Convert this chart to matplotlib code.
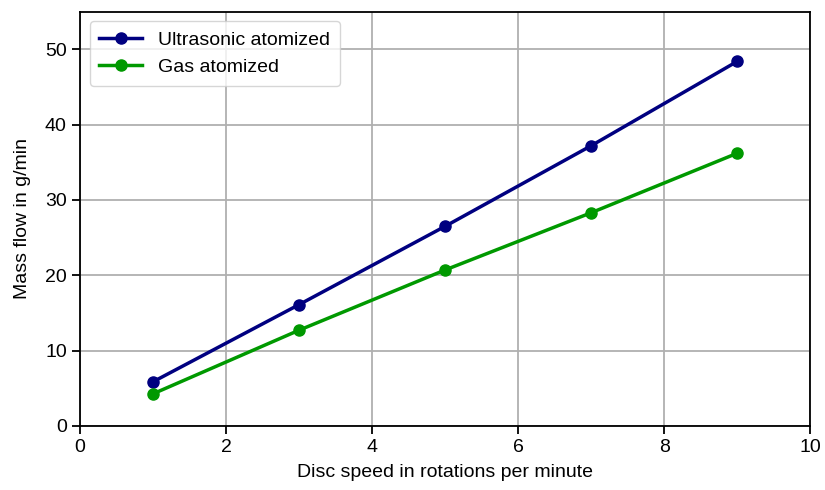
import matplotlib
matplotlib.use('Agg')
import matplotlib.pyplot as plt

plt.rcParams['font.family'] = ['Liberation Sans', 'DejaVu Sans']

disc_speed = [1, 3, 5, 7, 9]
ultrasonic = [5.85, 16.1, 26.5, 37.2, 48.4]
gas = [4.25, 12.7, 20.7, 28.3, 36.2]

fig = plt.figure(figsize=(8.25, 4.9), dpi=100)
ax = fig.add_axes([0.097, 0.131, 0.885, 0.845])

ax.plot(disc_speed, ultrasonic, '-o', color='#000080', lw=2.5, ms=8, label='Ultrasonic atomized')
ax.plot(disc_speed, gas, '-o', color='#009900', lw=2.5, ms=8, label='Gas atomized')

ax.set_xlim(0, 10)
ax.set_ylim(0, 55)
ax.set_yticks([0, 10, 20, 30, 40, 50])
ax.grid(True, color='#b0b0b0', lw=1.3)
ax.set_axisbelow(True)
ax.tick_params(labelsize=14, width=1.3, length=6)
for s in ax.spines.values():
    s.set_linewidth(1.3)

ax.set_xlabel('Disc speed in rotations per minute', fontsize=14, labelpad=6)
ax.set_ylabel('Mass flow in g/min', fontsize=14, labelpad=10)
ax.legend(loc='upper left', fontsize=14, borderpad=0.5, handlelength=2.2)

plt.savefig('out.png')
